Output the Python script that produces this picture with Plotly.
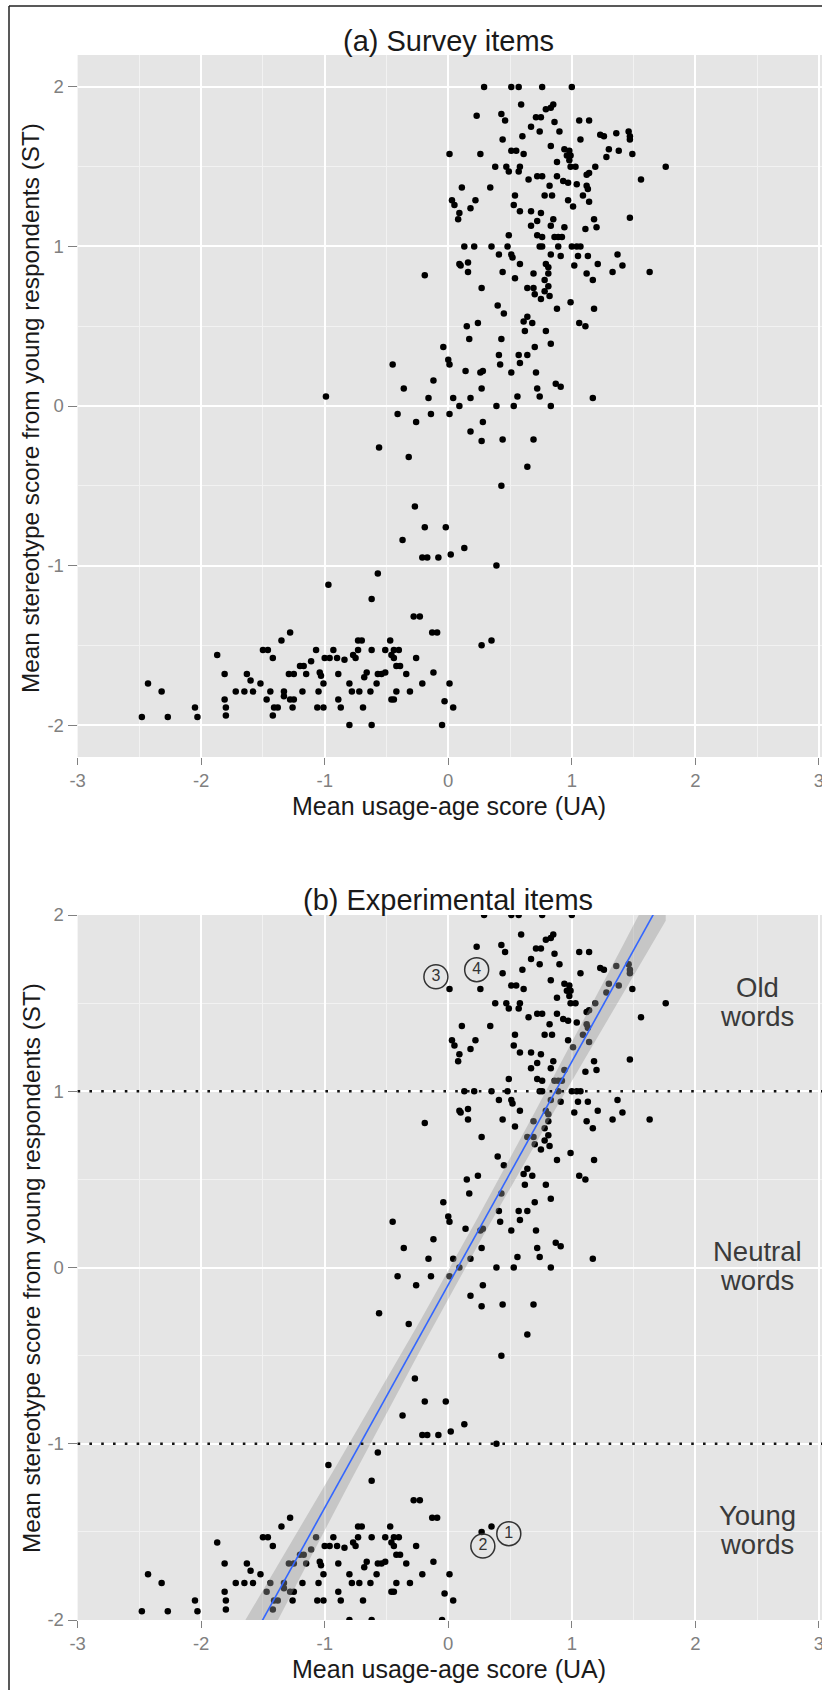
import numpy as np
import plotly.graph_objects as go

# ---------------- data ----------------
ua = [
    0.29, 0.51, 0.57, 0.76, 1.00, 0.59, 0.79, 0.83, 0.85, 0.23,
    0.43, 0.46, 0.71, 0.75, 0.86, 1.06, 1.14, 0.67, 0.74, 0.90,
    0.60, 0.44, 1.07, 1.23, 1.26, 1.36, 1.46, 1.47, 1.47, 0.83,
    0.94, 0.98, 0.96, 0.99, 0.98, 1.30, 1.28, 1.38, 1.49, 0.01,
    0.26, 0.51, 0.55, 0.61, 0.88, 0.38, 0.47, 0.49, 0.58, 0.57,
    0.99, 1.03, 1.19, 1.76, 1.12, 1.14, 0.72, 0.76, 0.65, 0.88,
    0.93, 0.97, 1.04, 1.56, 1.12, 1.13, 0.11, 0.34, 0.82, 0.78,
    0.84, 0.54, 1.09, 0.22, 0.03, 0.05, 0.09, 0.08, 0.18, 0.53,
    0.97, 1.01, 1.14, 0.58, 0.67, 0.75, 0.72, 0.85, 0.67, 0.83,
    0.94, 1.18, 1.20, 1.11, 1.47, 0.49, 0.72, 0.76, 0.86, 0.89,
    0.92, 0.13, 0.21, 0.35, 0.48, 0.74, 0.76, 0.89, 1.00, 1.04,
    1.07,
    0.41, 0.51, 0.52, 0.83, 0.91, 1.05, 1.13, 1.37, 0.09, 0.10,
    0.16, 0.16, 0.58, 0.79, 0.81, 1.02, 1.21, 1.41, 1.33, 1.63,
    0.44, 0.69, 0.81, 1.12, -0.19, 0.54, 1.17, 0.78, 0.81, 0.64,
    0.69, 0.27, 0.78, 0.70, 0.82, 0.75, 0.99, 0.40, 0.88, 1.18,
    0.45, 0.64, 0.61, 0.68, 0.62, 1.06, 1.11, 0.24, 0.15, 0.79,
    0.17, 0.43, 0.83, 0.70, -0.04, 0.41, 0.57, 0.64, 0.00, 0.01,
    0.58, 0.42, -0.45, 0.14, 0.26, 0.28, 0.51, 0.71, -0.12, 0.87,
    0.91, -0.36, 0.27, 0.72, 0.74, 0.56, -0.16, 0.04, 0.18, 1.17,
    0.09, 0.39, 0.53, 0.83, -0.41, -0.14, 0.01, -0.26, 0.28,
    0.18, 0.27, 0.44, 0.69, -0.56, -0.32, 0.64, 0.43, -0.27, -0.19,
    -0.02, -0.37, 0.13, 0.02, -0.21, -0.17, -0.08, 0.39, -0.57,
    -0.97, -0.62, -0.28, -0.23, -0.13, -0.09, 0.27, 0.35, -1.28, -1.35,
    -0.73, -0.70, -0.47, -1.87, -1.50, -1.46, -1.42, -1.07, -0.93, -0.73,
    -0.62, -0.51, -0.44, -0.40, -0.46, -0.44, -0.77, -0.75, -1.11, -1.00,
    -0.96, -0.90, -0.84, -1.20, -1.17, -0.42, -0.39, -0.26, -1.81, -1.63,
    -1.60, -1.52, -1.29, -1.25, -1.15, -1.04, -1.03, -0.89, -0.68, -0.66,
    -0.57, -0.54, -0.51, -0.34, -0.12, -1.01, -0.80, -0.58, -0.21, 0.01,
    -2.43, -2.32, -1.72, -1.65, -1.58, -1.44, -1.33, -1.18, -1.05, -0.78,
    -0.72, -0.63, -0.42, -0.31, -0.46, -0.44, -1.47, -1.33, -1.28, -1.25,
    -0.89, -0.03, -1.81, -1.80, -2.05, -1.41, -1.38, -1.26, -1.06, -1.01,
    -0.87, -0.69, 0.04, -2.48, -2.27, -2.03, -1.80, -1.42, -0.80, -0.62,
    -0.05,
]
st = [
    2.00, 2.00, 2.00, 2.00, 2.00, 1.89, 1.86, 1.87, 1.89, 1.82,
    1.83, 1.79, 1.81, 1.81, 1.78, 1.79, 1.79, 1.75, 1.72, 1.72,
    1.69, 1.67, 1.67, 1.70, 1.69, 1.71, 1.72, 1.69, 1.67, 1.63,
    1.61, 1.60, 1.57, 1.57, 1.54, 1.61, 1.56, 1.60, 1.58, 1.58,
    1.58, 1.60, 1.60, 1.58, 1.53, 1.50, 1.50, 1.47, 1.50, 1.47,
    1.50, 1.50, 1.50, 1.50, 1.45, 1.46, 1.44, 1.44, 1.42, 1.44,
    1.41, 1.40, 1.39, 1.42, 1.38, 1.36, 1.37, 1.37, 1.38, 1.32,
    1.32, 1.32, 1.32, 1.29, 1.29, 1.26, 1.21, 1.17, 1.24, 1.26,
    1.29, 1.25, 1.28, 1.22, 1.22, 1.21, 1.16, 1.17, 1.13, 1.13,
    1.12, 1.17, 1.12, 1.11, 1.18, 1.07, 1.07, 1.06, 1.06, 1.06,
    1.06, 1.00, 1.00, 1.00, 1.00, 1.00, 1.00, 1.00, 1.00, 1.00,
    1.00,
    0.95, 0.95, 0.93, 0.95, 0.94, 0.94, 0.94, 0.95, 0.89, 0.88,
    0.90, 0.84, 0.89, 0.89, 0.87, 0.88, 0.89, 0.88, 0.84, 0.84,
    0.84, 0.83, 0.83, 0.83, 0.82, 0.80, 0.79, 0.79, 0.75, 0.74,
    0.74, 0.74, 0.72, 0.70, 0.69, 0.67, 0.65, 0.63, 0.61, 0.61,
    0.58, 0.56, 0.53, 0.52, 0.47, 0.52, 0.50, 0.52, 0.50, 0.47,
    0.42, 0.42, 0.39, 0.37, 0.37, 0.32, 0.32, 0.32, 0.29, 0.26,
    0.27, 0.26, 0.26, 0.22, 0.21, 0.22, 0.21, 0.21, 0.16, 0.14,
    0.12, 0.11, 0.11, 0.11, 0.06, 0.06, 0.05, 0.05, 0.05, 0.05,
    0.00, 0.00, 0.00, 0.00, -0.05, -0.05, -0.05, -0.10, -0.10,
    -0.16, -0.22, -0.21, -0.21, -0.26, -0.32, -0.38, -0.50, -0.63, -0.76,
    -0.76, -0.84, -0.89, -0.93, -0.95, -0.95, -0.95, -1.00, -1.05,
    -1.12, -1.21, -1.32, -1.32, -1.42, -1.42, -1.50, -1.47, -1.42, -1.47,
    -1.47, -1.47, -1.47, -1.56, -1.53, -1.53, -1.58, -1.53, -1.53, -1.53,
    -1.53, -1.53, -1.53, -1.53, -1.56, -1.58, -1.56, -1.58, -1.60, -1.58,
    -1.58, -1.58, -1.59, -1.63, -1.63, -1.63, -1.63, -1.58, -1.68, -1.68,
    -1.72, -1.74, -1.68, -1.68, -1.68, -1.67, -1.69, -1.68, -1.70, -1.67,
    -1.68, -1.68, -1.67, -1.68, -1.67, -1.74, -1.74, -1.74, -1.74, -1.74,
    -1.74, -1.79, -1.79, -1.79, -1.79, -1.79, -1.79, -1.79, -1.79, -1.79,
    -1.79, -1.79, -1.79, -1.79, -1.84, -1.84, -1.84, -1.82, -1.84, -1.84,
    -1.84, -1.85, -1.84, -1.89, -1.89, -1.89, -1.89, -1.89, -1.89, -1.89,
    -1.89, -1.89, -1.89, -1.95, -1.95, -1.95, -1.94, -1.94, -2.00, -2.00,
    -2.00,
]
# item shown only in the survey panel
survey_only_ua = [-0.99]
survey_only_st = [0.06]

x_tick_vals = [-3, -2, -1, 0, 1, 2, 3]
x_tick_text = ["-3", "-2", "-1", "0", "1", "2", "3"]
y_tick_vals = [-2, -1, 0, 1, 2]
y_tick_text = ["-2", "-1", "0", "1", "2"]

thresholds = [1, -1]
region_ua = [2.5, 2.5, 2.5]
region_st = [1.5, 0.0, -1.5]
region_line1 = ["Old", "Neutral", "Young"]
region_line2 = ["words", "words", "words"]

marked_ua = [0.49, 0.28, -0.10, 0.23]
marked_st = [-1.51, -1.58, 1.65, 1.69]
marked_text = ["1", "2", "3", "4"]

titles = ["(a) Survey items", "(b) Experimental items"]
x_title = "Mean usage-age score (UA)"
y_title = "Mean stereotype score from young respondents (ST)"

# ---------------- geometry ----------------
W, H = 822, 1690
FONT = "Liberation Sans, Arial, Helvetica, sans-serif"


def fx(px):
    return px / W


def fy(px):
    return 1 - px / H


fig = go.Figure()

# panel (a) points
fig.add_trace(go.Scatter(
    x=ua + survey_only_ua, y=st + survey_only_st, mode="markers",
    marker=dict(size=6.5, color="black"), xaxis="x", yaxis="y",
    showlegend=False, hoverinfo="skip"))

# panel (b) points
fig.add_trace(go.Scatter(
    x=ua, y=st, mode="markers",
    marker=dict(size=6.5, color="black"), xaxis="x2", yaxis="y2",
    showlegend=False, hoverinfo="skip"))

# linear fit with 95% confidence band (like geom_smooth(method="lm"))
xa = np.array(ua)
ya = np.array(st)
n = len(xa)
slope, intercept = np.polyfit(xa, ya, 1)
xs = np.linspace(xa.min(), xa.max(), 100)
yhat = intercept + slope * xs
resid = ya - (intercept + slope * xa)
s = np.sqrt(np.sum(resid ** 2) / (n - 2))
sxx = np.sum((xa - xa.mean()) ** 2)
se = s * np.sqrt(1.0 / n + (xs - xa.mean()) ** 2 / sxx)
tq = 1.9675
fig.add_trace(go.Scatter(
    x=np.concatenate([xs, xs[::-1]]),
    y=np.concatenate([yhat + tq * se, (yhat - tq * se)[::-1]]),
    fill="toself", fillcolor="rgba(153,153,153,0.4)", line=dict(width=0),
    mode="lines", xaxis="x2", yaxis="y2", showlegend=False, hoverinfo="skip"))
fig.add_trace(go.Scatter(
    x=xs, y=yhat, mode="lines", line=dict(color="#3366FF", width=1.6),
    xaxis="x2", yaxis="y2", showlegend=False, hoverinfo="skip"))

# circled item numbers
fig.add_trace(go.Scatter(
    x=marked_ua, y=marked_st, mode="markers+text", text=marked_text,
    textposition="middle center",
    textfont=dict(family=FONT, size=16, color="#333333"),
    marker=dict(symbol="circle-open", size=24, color="#333333",
                line=dict(width=1.5)),
    xaxis="x2", yaxis="y2", showlegend=False, hoverinfo="skip"))

xdom = [fx(77.6), 1.0]
xrange = [-3, 3.025]

common_x = dict(
    domain=xdom, range=xrange, tickmode="array", tickvals=x_tick_vals,
    ticktext=x_tick_text, ticks="outside", ticklen=7, tickwidth=1.4,
    tickcolor="#808080", tickfont=dict(family=FONT, size=18.5, color="#808080"),
    ticklabeloverflow="allow",
    showgrid=True, gridcolor="white", gridwidth=2, zeroline=False,
    showline=False, automargin=False, fixedrange=True,
    minor=dict(tickmode="array", tickvals=[-2.5, -1.5, -0.5, 0.5, 1.5, 2.5],
               showgrid=True, gridcolor="#F2F2F2", gridwidth=1, ticks=""),
)
common_y = dict(
    tickmode="array", tickvals=y_tick_vals, ticktext=y_tick_text,
    ticks="outside", ticklen=9, tickwidth=1.4, tickcolor="#808080",
    tickfont=dict(family=FONT, size=18.5, color="#808080"),
    showgrid=True, gridcolor="white", gridwidth=2, zeroline=False,
    showline=False, automargin=False, fixedrange=True,
    minor=dict(tickmode="array", tickvals=[-1.5, -0.5, 0.5, 1.5],
               showgrid=True, gridcolor="#F2F2F2", gridwidth=1, ticks=""),
)

fig.update_layout(
    width=W, height=H, margin=dict(l=0, r=0, t=0, b=0),
    template="none", paper_bgcolor="white", plot_bgcolor="#E5E5E5",
    showlegend=False,
    xaxis=dict(common_x, anchor="y"),
    yaxis=dict(common_y, domain=[fy(757), fy(55)], range=[-2.2, 2.2], anchor="x"),
    xaxis2=dict(common_x, anchor="y2"),
    yaxis2=dict(common_y, domain=[fy(1620), fy(915)], range=[-2, 2], anchor="x2"),
)

shapes = []
for thr in thresholds:
    shapes.append(dict(type="line", xref="x2 domain", yref="y2", x0=0, x1=1,
                       y0=thr, y1=thr,
                       line=dict(color="#111111", width=2.6, dash="2.6px,9.2px")))
# outer frame (top and left edges)
shapes.append(dict(type="line", xref="paper", yref="paper", x0=fx(9), x1=1,
                   y0=fy(6), y1=fy(6), line=dict(color="#222222", width=1.5)))
shapes.append(dict(type="line", xref="paper", yref="paper", x0=fx(9), x1=fx(9),
                   y0=0, y1=fy(6), line=dict(color="#222222", width=1.5)))
fig.update_layout(shapes=shapes)

ann = []
for t, ycen in zip(titles, [41, 900]):
    ann.append(dict(text=t, xref="paper", yref="paper", x=fx(448), y=fy(ycen),
                    xanchor="center", yanchor="middle", showarrow=False,
                    font=dict(family=FONT, size=29, color="#1a1a1a")))
for ycen in [806, 1669]:
    ann.append(dict(text=x_title, xref="paper", yref="paper", x=fx(449), y=fy(ycen),
                    xanchor="center", yanchor="middle", showarrow=False,
                    font=dict(family=FONT, size=25, color="#1a1a1a")))
for ycen in [408, 1268]:
    ann.append(dict(text=y_title, xref="paper", yref="paper", x=fx(31), y=fy(ycen),
                    xanchor="center", yanchor="middle", showarrow=False,
                    textangle=-90,
                    font=dict(family=FONT, size=24.3, color="#1a1a1a")))
for xv, yv, l1, l2 in zip(region_ua, region_st, region_line1, region_line2):
    ann.append(dict(text=l1, xref="x2", yref="y2", x=xv, y=yv, yshift=16,
                    xanchor="center", yanchor="middle", showarrow=False,
                    font=dict(family=FONT, size=27.5, color="#3a3a3a")))
    ann.append(dict(text=l2, xref="x2", yref="y2", x=xv, y=yv, yshift=-13,
                    xanchor="center", yanchor="middle", showarrow=False,
                    font=dict(family=FONT, size=27.5, color="#3a3a3a")))
fig.update_layout(annotations=ann)

fig.write_html("out.html")
